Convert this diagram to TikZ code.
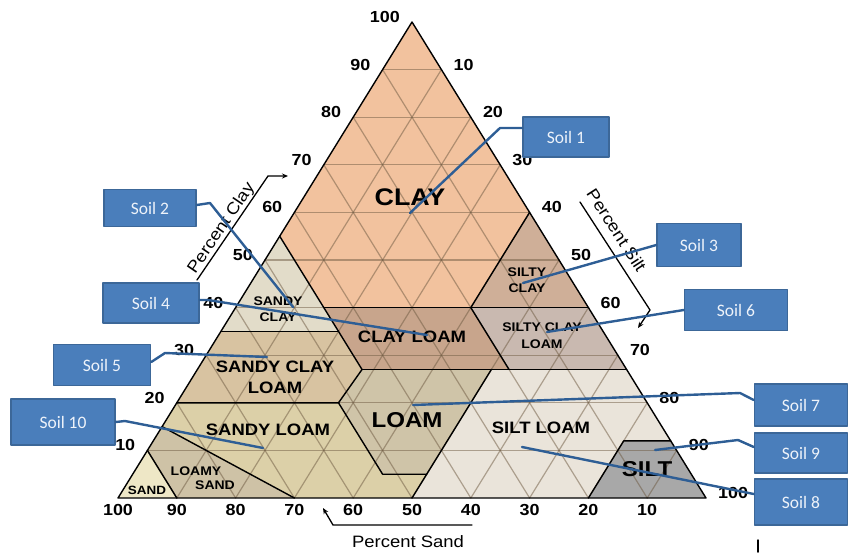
\documentclass[tikz,border=0pt]{standalone}
\usepackage{fontspec}
\setmainfont{Liberation Sans}[FakeStretch=1.12]
\newfontfamily\calloutfont{Carlito}
\usetikzlibrary{arrows.meta}

\definecolor{clayfill}{HTML}{F2C29E}
\definecolor{sandyclayfill}{HTML}{E2DCC9}
\definecolor{siltyclayfill}{HTML}{CFAF98}
\definecolor{clayloamfill}{HTML}{C8A58C}
\definecolor{siltyclayloamfill}{HTML}{C9B9B0}
\definecolor{sandyclayloamfill}{HTML}{D8C3A1}
\definecolor{loamfill}{HTML}{CFC4A8}
\definecolor{sandyloamfill}{HTML}{DCD0A8}
\definecolor{loamysandfill}{HTML}{CEC2A6}
\definecolor{sandfill}{HTML}{EEE7C6}
\definecolor{siltloamfill}{HTML}{EAE4DA}
\definecolor{siltfill}{HTML}{A8A8A8}
\definecolor{gridc}{HTML}{6E5A42}
\definecolor{soilfill}{HTML}{4A7EBB}
\definecolor{soilborder}{HTML}{3C6798}
\definecolor{soiltext}{HTML}{EEF3FA}
\definecolor{leaderc}{HTML}{2E5E95}

% point of the triangle from percent clay and percent silt
\newcommand{\tern}[2]{({118+5.88*((#2)+0.5*(#1))},{498-4.76*(#1)})}

\begin{document}
\begin{tikzpicture}[
	x=1pt,
	y=-1pt,
	line cap=round,
	line join=round,
	>={Stealth[length=6pt,width=5pt]},
	every node/.style={align=center, inner sep=1pt},
	region/.style={draw=black, line width=1.4pt},
	gridline/.style={draw=gridc, line width=1.2pt, opacity=0.5},
	axisline/.style={draw=black, line width=1.3pt},
	tag/.style={font=\bfseries\fontsize{12.5}{16}\selectfont},
	midtag/.style={font=\bfseries\fontsize{16.5}{21}\selectfont},
	bigtag/.style={font=\bfseries\fontsize{21.5}{23}\selectfont},
	tick/.style={font=\bfseries\fontsize{16}{17}\selectfont},
	axistitle/.style={font=\fontsize{16.5}{17}\selectfont},
	soil/.style={
		draw=soilborder,
		fill=soilfill,
		line width=1.5pt,
		minimum width=92pt,
		minimum height=41pt,
		text=soiltext,
		font=\calloutfont\fontsize{17.5}{18}\selectfont
	},
	leader/.style={draw=leaderc, line width=2.4pt}
	]
	\useasboundingbox (0,0) rectangle (848,552);

	\fill[clayfill] \tern{100}{0} -- \tern{55}{0} -- \tern{40}{15} -- \tern{40}{40} -- \tern{60}{40} -- cycle;
	\fill[sandyclayfill] \tern{55}{0} -- \tern{35}{0} -- \tern{35}{20} -- cycle;
	\fill[siltyclayfill] \tern{60}{40} -- \tern{40}{40} -- \tern{40}{60} -- cycle;
	\fill[clayloamfill] \tern{40}{15} -- \tern{27}{28} -- \tern{27}{53} -- \tern{40}{40} -- cycle;
	\fill[siltyclayloamfill] \tern{40}{40} -- \tern{27}{53} -- \tern{27}{73} -- \tern{40}{60} -- cycle;
	\fill[sandyclayloamfill] \tern{35}{0} -- \tern{20}{0} -- \tern{20}{27.5} -- \tern{27}{28} -- \tern{35}{20} -- cycle;
	\fill[loamfill] \tern{27}{28} -- \tern{20}{27.5} -- \tern{5}{42.5} -- \tern{5}{50} -- \tern{27}{50} -- cycle;
	\fill[sandyloamfill] \tern{20}{0} -- \tern{15}{0} -- \tern{0}{30} -- \tern{0}{50} -- \tern{5}{50} -- \tern{5}{42.5} -- \tern{20}{27.5} -- cycle;
	\fill[loamysandfill] \tern{15}{0} -- \tern{10}{0} -- \tern{0}{10} -- \tern{0}{30} -- cycle;
	\fill[sandfill] \tern{0}{0} -- \tern{10}{0} -- \tern{0}{10} -- cycle;
	\fill[siltloamfill] \tern{27}{50} -- \tern{0}{50} -- \tern{0}{80} -- \tern{12}{80} -- \tern{12}{88} -- \tern{27}{73} -- cycle;
	\fill[siltfill] \tern{12}{80} -- \tern{0}{80} -- \tern{0}{100} -- \tern{12}{88} -- cycle;

	\foreach \k in {10,20,...,90}{
		\draw[gridline] \tern{\k}{0} -- \tern{\k}{100-\k};
		\draw[gridline] \tern{0}{\k} -- \tern{100-\k}{\k};
		\draw[gridline] \tern{0}{100-\k} -- \tern{100-\k}{0};
	}

	\draw[region] \tern{55}{0} -- \tern{27}{28};
	\draw[region] \tern{40}{15} -- \tern{40}{60};
	\draw[region] \tern{60}{40} -- \tern{40}{40} -- \tern{27}{53};
	\draw[region] \tern{35}{0} -- \tern{35}{20};
	\draw[region] \tern{27}{28} -- \tern{27}{73};
	\draw[region] \tern{20}{0} -- \tern{20}{27.5} -- \tern{27}{28};
	\draw[region] \tern{20}{27.5} -- \tern{5}{42.5} -- \tern{5}{50};
	\draw[region] \tern{0}{50} -- \tern{27}{50};
	\draw[region] \tern{15}{0} -- \tern{0}{30};
	\draw[region] \tern{10}{0} -- \tern{0}{10};
	\draw[region] \tern{0}{80} -- \tern{12}{80} -- \tern{12}{88};
	\draw[region] \tern{100}{0} -- \tern{0}{0} -- \tern{0}{100} -- cycle;

	\node[bigtag, font=\bfseries\fontsize{24}{25}\selectfont] (clay) at (410,197) {CLAY};
	\node[tag] (siltyclay) at (527,280) {SILTY\\CLAY};
	\node[tag] (sandyclay) at (278,309) {SANDY\\CLAY};
	\node[tag, font=\bfseries\fontsize{12.5}{17}\selectfont] (siltyclayloam) at (542,336) {SILTY CLAY\\LOAM};
	\node[midtag] (clayloam) at (412,337) {CLAY LOAM};
	\node[midtag] (sandyclayloam) at (275,377) {SANDY CLAY\\LOAM};
	\node[midtag] (sandyloam) at (268,430) {SANDY LOAM};
	\node[bigtag] (loam) at (407,420) {LOAM};
	\node[midtag] (siltloam) at (541,428) {SILT LOAM};
	\node[bigtag] (silt) at (647,469) {SILT};
	\node[tag, font=\bfseries\fontsize{12.5}{14}\selectfont] (loamysand) at (196,478) {LOAMY\\\hspace*{38pt}SAND};
	\node[tag, font=\bfseries\fontsize{12}{13}\selectfont] (sand) at (147,490) {SAND};

	\foreach \v [evaluate={\cx=118+2.94*\v-11; \cy=498-4.76*\v-5;}] in {10,20,...,100}{
		\node[tick, anchor=east] (cl\v) at (\cx,\cy) {\v};
	}
	\foreach \v [evaluate={\cx=412+2.94*\v+11; \cy=22+4.76*\v-5;}] in {10,20,...,100}{
		\node[tick, anchor=west] (si\v) at (\cx,\cy) {\v};
	}
	\foreach \v [evaluate={\cx=118+5.88*(100-\v);}] in {10,20,...,100}{
		\node[tick] (sa\v) at (\cx,510) {\v};
	}

	\coordinate (clayA) at (197,280);
	\coordinate (clayB) at (268,176);
	\coordinate (clayC) at (288,176);
	\draw[axisline, ->] (clayA) -- (clayB) -- (clayC);
	\path (clayA) -- (clayB) node[axistitle, sloped, above, pos=0.45] (claytitle) {Percent Clay};

	\coordinate (siltA) at (580,202);
	\coordinate (siltB) at (650,310);
	\coordinate (siltC) at (638,328);
	\draw[axisline, ->] (siltA) -- (siltB) -- (siltC);
	\path (siltA) -- (siltB) node[axistitle, sloped, above=8pt, pos=0.34] (silttitle) {Percent Silt};

	\coordinate (sandA) at (472,525);
	\coordinate (sandB) at (333,525);
	\coordinate (sandC) at (323,508);
	\draw[axisline, ->] (sandA) -- (sandB) -- (sandC);
	\node[axistitle] (sandtitle) at (408,542) {Percent Sand};

	\draw[line width=1.5pt] (758,540) -- (758,552);

	\node[soil, minimum width=86pt, minimum height=40pt] (soil1) at (566,137) {Soil 1};
	\node[soil, minimum height=37pt] (soil2) at (150,208) {Soil 2};
	\node[soil, minimum width=84pt, minimum height=43pt] (soil3) at (699,245) {Soil 3};
	\node[soil, minimum width=96pt, minimum height=40pt] (soil4) at (151,303) {Soil 4};
	\node[soil, minimum width=97pt] (soil5) at (102,365) {Soil 5};
	\node[soil, minimum width=103pt] (soil6) at (736,310) {Soil 6};
	\node[soil, minimum width=93pt, minimum height=42pt] (soil7) at (801,405) {Soil 7};
	\node[soil, minimum width=93pt, minimum height=40pt] (soil9) at (801,453) {Soil 9};
	\node[soil, minimum width=93pt, minimum height=46pt] (soil8) at (801,502) {Soil 8};
	\node[soil, minimum width=104pt, minimum height=46pt] (soil10) at (63,422) {Soil 10};

	\coordinate (s1) at (410,213);
	\coordinate (s2) at (293,307);
	\coordinate (s3) at (523,283);
	\coordinate (s4) at (427,335);
	\coordinate (s5) at (267,357);
	\coordinate (s6) at (547,332);
	\coordinate (s7) at (413,405);
	\coordinate (s8) at (522,447);
	\coordinate (s9) at (655,450);
	\coordinate (s10) at (263,448);

	\draw[leader] ([yshift=9pt]soil1.west) -- (500,128) -- (s1);
	\draw[leader] ([yshift=3pt]soil2.east) -- (210,203) -- (s2);
	\draw[leader] (soil3.west) -- (s3);
	\draw[leader] ([yshift=3pt]soil4.east) -- (208,300) -- (s4);
	\draw[leader] ([yshift=3pt]soil5.east) -- (165,353) -- (s5);
	\draw[leader] (soil6.west) -- (s6);
	\draw[leader] ([yshift=5pt]soil7.west) -- (740,393) -- (s7);
	\draw[leader] ([yshift=8pt]soil8.west) -- (s8);
	\draw[leader] ([yshift=6pt]soil9.west) -- (738,440) -- (s9);
	\draw[leader] (soil10.east) -- (125,421) -- (s10);

	\end{tikzpicture}
\end{document}
